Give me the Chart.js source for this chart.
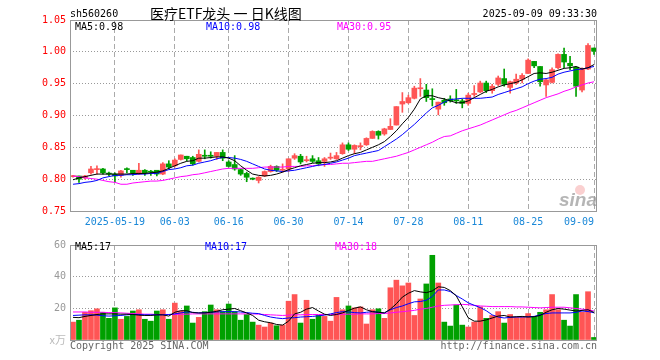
<!DOCTYPE html>
<html>
<head>
<meta charset="utf-8">
<script src="https://cdn.jsdelivr.net/npm/chart.js@4.4.1/dist/chart.umd.min.js"></script>
<style>
  html, body { margin: 0; padding: 0; background: #fff; }
  #wrap { position: relative; width: 660px; height: 360px; }
  #kline { position: absolute; left: 0; top: 0; }
  #vol { position: absolute; left: 0; top: 235px; }
</style>
</head>
<body>
<div id="wrap">
  <canvas id="kline" width="660" height="235"></canvas>
  <canvas id="vol" width="660" height="125"></canvas>
</div>
<script>
// trading days shown, 2025-05-08 .. 2025-09-09
const dates = [
  '2025-05-08','2025-05-09','2025-05-12','2025-05-13','2025-05-14','2025-05-15','2025-05-16',
  '2025-05-19','2025-05-20','2025-05-21','2025-05-22','2025-05-23','2025-05-26','2025-05-27','2025-05-28','2025-05-29','2025-05-30',
  '2025-06-03','2025-06-04','2025-06-05','2025-06-06','2025-06-09','2025-06-10','2025-06-11','2025-06-12','2025-06-13',
  '2025-06-16','2025-06-17','2025-06-18','2025-06-19','2025-06-20','2025-06-23','2025-06-24','2025-06-25','2025-06-26','2025-06-27','2025-06-30',
  '2025-07-01','2025-07-02','2025-07-03','2025-07-04','2025-07-07','2025-07-08','2025-07-09','2025-07-10','2025-07-11',
  '2025-07-14','2025-07-15','2025-07-16','2025-07-17','2025-07-18','2025-07-21','2025-07-22','2025-07-23','2025-07-24','2025-07-25',
  '2025-07-28','2025-07-29','2025-07-30','2025-07-31','2025-08-01','2025-08-04','2025-08-05','2025-08-06','2025-08-07','2025-08-08',
  '2025-08-11','2025-08-12','2025-08-13','2025-08-14','2025-08-15','2025-08-18','2025-08-19','2025-08-20','2025-08-21','2025-08-22',
  '2025-08-25','2025-08-26','2025-08-27','2025-08-28','2025-08-29','2025-09-01','2025-09-02','2025-09-03','2025-09-04','2025-09-05',
  '2025-09-08','2025-09-09'
];

const open = [.804,.805,.802,.810,.815,.816,.809,.808,.806,.816,
  .814,.808,.814,.812,.814,.808,.824,.821,.831,.836,
  .834,.828,.837,.837,.836,.842,.827,.823,.815,.809,
  .801,.798,.805,.812,.820,.814,.816,.833,.836,.829,
  .832,.829,.828,.833,.832,.840,.854,.847,.851,.854,
  .864,.875,.871,.878,.885,.918,.920,.927,.942,.940,
  .926,.910,.924,.926,.924,.923,.919,.933,.937,.951,
  .939,.949,.958,.944,.951,.957,.966,.985,.977,.948,
  .952,.975,.996,.982,.976,.940,.973,1.006];
const high = [.806,.805,.806,.820,.821,.817,.811,.810,.814,.818,
  .814,.825,.815,.814,.814,.826,.829,.832,.838,.836,
  .836,.846,.846,.843,.842,.846,.829,.837,.816,.811,
  .802,.804,.813,.822,.821,.824,.832,.840,.839,.836,
  .837,.834,.834,.841,.842,.857,.857,.854,.857,.865,
  .876,.876,.880,.895,.914,.936,.932,.946,.958,.949,
  .942,.921,.927,.931,.941,.926,.935,.947,.954,.954,
  .949,.962,.973,.954,.965,.966,.989,.985,.977,.957,
  .975,.997,1.006,.993,.976,.975,1.013,1.006];
const low = [.803,.795,.800,.808,.808,.808,.805,.796,.803,.810,
  .806,.807,.806,.806,.805,.807,.816,.819,.830,.829,
  .822,.827,.832,.833,.831,.829,.819,.814,.806,.796,
  .799,.794,.804,.811,.812,.811,.812,.831,.824,.827,
  .826,.821,.820,.831,.831,.839,.845,.840,.846,.853,
  .864,.863,.869,.878,.885,.905,.919,.926,.930,.922,
  .915,.901,.916,.921,.919,.912,.916,.930,.936,.936,
  .935,.947,.946,.935,.949,.951,.966,.975,.946,.930,
  .951,.973,.975,.972,.930,.937,.972,.996];
const close = [.805,.800,.805,.816,.816,.810,.808,.805,.813,.815,
  .810,.814,.810,.811,.808,.824,.819,.830,.838,.832,
  .824,.839,.836,.836,.842,.833,.820,.816,.808,.803,
  .800,.803,.812,.820,.814,.815,.832,.837,.827,.830,
  .828,.824,.832,.834,.837,.854,.847,.853,.852,.864,
  .875,.869,.879,.883,.914,.922,.928,.943,.943,.928,
  .925,.921,.920,.923,.923,.919,.932,.934,.951,.939,
  .946,.959,.949,.953,.957,.963,.987,.978,.953,.956,
  .972,.996,.984,.978,.946,.973,1.010,1.001];

// moving averages as drawn on the chart
const ma5 = [.799,.802,.804,.806,.808,.808,.808,.808,.808,.808,
  .809,.809,.809,.810,.811,.813,.817,.821,.825,.828,
  .829,.833,.833,.834,.835,.835,.833,.829,.821,.814,
  .808,.806,.805,.806,.808,.811,.815,.818,.821,.823,
  .825,.826,.826,.827,.829,.833,.837,.840,.842,.846,
  .850,.854,.859,.867,.876,.887,.897,.910,.926,.931,
  .931,.928,.926,.923,.920,.920,.923,.928,.933,.938,
  .941,.945,.948,.950,.952,.956,.961,.966,.967,.966,
  .968,.971,.974,.975,.977,.973,.975,.980];
const ma10 = [.792,.793,.795,.796,.798,.802,.804,.806,.806,.807,
  .807,.808,.808,.809,.809,.812,.815,.816,.818,.821,
  .822,.825,.827,.829,.832,.834,.834,.833,.831,.828,
  .824,.820,.816,.814,.813,.812,.813,.814,.816,.818,
  .820,.822,.823,.825,.827,.830,.833,.837,.839,.841,
  .843,.845,.851,.857,.863,.870,.878,.886,.895,.904,
  .912,.916,.921,.925,.926,.927,.927,.927,.927,.928,
  .929,.933,.936,.939,.942,.945,.950,.954,.957,.958,
  .960,.965,.968,.970,.972,.973,.975,.977];
const ma30 = [.805,.804,.802,.801,.800,.798,.796,.795,.792,.792,
  .794,.795,.796,.797,.797,.798,.800,.802,.804,.805,
  .807,.808,.810,.812,.814,.816,.817,.817,.817,.817,
  .817,.818,.819,.819,.819,.819,.820,.820,.820,.821,
  .821,.822,.823,.823,.824,.825,.825,.826,.827,.828,
  .828,.830,.832,.834,.836,.839,.842,.846,.850,.854,
  .858,.863,.867,.868,.872,.876,.879,.882,.885,.889,
  .893,.897,.901,.905,.908,.912,.916,.920,.924,.928,
  .931,.934,.938,.941,.945,.948,.951,.953];

// volume, 万手
const volume = [11.3,12.5,17.5,18.5,19.7,17.5,13.7,20.3,13.1,14.9,
  18.3,19.1,13.1,11.9,18.3,19.1,13.1,23.3,18.3,21.5,
  10.7,14.3,17.9,22.1,19.1,17.9,22.7,17.9,12.5,16.1,
  11.3,9.4,8.2,10.7,9.0,9.4,24.5,28.7,10.7,25.1,
  13.1,15.5,14.9,11.9,26.9,19.1,21.5,20.3,20.9,10.1,
  19.1,19.7,13.7,33.0,37.8,34.2,36.0,15.5,25.9,35.4,
  53.5,36.0,11.3,8.8,22.1,9.4,8.2,11.3,20.9,13.7,
  15.5,17.9,10.7,16.1,14.3,14.3,16.7,14.9,17.5,19.1,
  28.7,19.1,12.5,8.8,28.7,17.5,30.5,1.6];
const volMa5 = [14.3,14.1,14.9,15.5,16.1,16.5,16.5,16.5,16.3,16.3,
  16.1,15.7,15.5,15.5,15.9,15.9,15.1,17.5,18.5,18.5,
  17.3,17.1,17.1,17.5,18.1,19.1,19.5,19.9,18.5,17.1,
  15.5,12.5,11.5,10.9,9.8,9.4,11.9,16.5,17.5,19.5,
  20.5,18.3,16.3,15.5,16.1,17.1,18.7,20.1,20.9,19.1,
  17.9,17.5,17.1,19.5,22.9,27.1,29.5,31.2,30.4,29.9,
  31.0,33.6,33.2,31.2,27.9,21.0,14.0,11.9,11.9,12.7,
  13.9,15.1,15.5,14.5,14.7,14.9,14.5,14.7,15.5,17.5,
  19.1,19.9,19.5,18.9,18.3,18.7,19.1,17.4];
const volMa10 = [15.5,15.7,15.9,15.9,15.7,15.3,15.1,15.3,15.5,15.9,
  16.1,16.1,15.9,15.9,15.9,15.9,16.1,16.5,17.1,17.7,
  17.5,17.1,17.3,17.5,17.7,17.9,17.9,17.9,17.7,17.3,
  16.9,16.7,15.5,14.5,13.9,13.5,13.9,14.1,14.5,14.7,
  14.9,15.3,15.7,16.5,17.3,17.9,17.7,17.3,17.1,17.5,
  17.9,17.5,17.1,19.1,20.5,21.5,22.9,24.1,24.3,25.1,
  27.5,31.6,31.6,30.6,28.1,25.9,23.5,21.9,20.5,18.5,
  15.9,14.5,13.9,14.3,14.5,14.5,14.7,14.9,15.9,16.7,
  17.1,17.1,17.1,17.1,17.5,18.3,18.0,17.2];
const volMa30 = [17.7,17.7,17.7,17.5,17.5,17.5,17.3,17.3,17.1,16.9,
  16.7,16.5,16.3,16.3,16.1,16.1,16.1,16.1,16.3,16.3,
  16.5,16.5,16.5,16.5,16.5,16.5,16.5,16.5,16.5,16.5,
  16.5,16.3,16.1,15.9,15.7,15.5,15.7,15.9,15.9,16.1,
  16.1,16.1,16.1,16.1,16.1,16.3,16.3,16.3,16.5,16.5,
  16.5,16.7,16.7,17.1,17.5,17.9,18.3,18.7,19.5,19.9,
  20.7,21.5,21.9,22.1,22.3,22.5,22.3,21.9,21.5,21.3,
  21.1,21.1,21.1,21.1,20.9,20.9,20.7,20.5,20.3,20.5,
  20.7,20.7,20.7,20.3,19.9,19.5,19.1,18.3];

const tickDates = ['2025-05-19','2025-06-03','2025-06-16','2025-06-30','2025-07-14','2025-07-28','2025-08-11','2025-08-25','2025-09-09'];
const tickLabels = ['2025-05-19','06-03','06-16','06-30','07-14','07-28','08-11','08-25','09-09'];

const RED = '#ff5555';
const GREEN = '#00a000';
const MONO = '"DejaVu Sans Mono", monospace';

const tickIndex = tickDates.map(d => dates.indexOf(d));
const candleColor = close.map((c, i) => c >= open[i] ? RED : GREEN);

function xGridColor(ctx) {
  return tickIndex.includes(ctx.index) ? '#aaaaaa' : 'rgba(0,0,0,0)';
}

function drawFrame(chart) {
  const {ctx, chartArea: a} = chart;
  ctx.save();
  ctx.strokeStyle = '#999999';
  ctx.lineWidth = 1;
  ctx.strokeRect(Math.round(a.left) + 0.5, Math.round(a.top) + 0.5,
    Math.round(a.right - a.left) - 1, Math.round(a.bottom - a.top));
  ctx.restore();
}

const last = dates.length - 1;

const klineText = {
  id: 'klineText',
  afterDraw(chart) {
    const ctx = chart.ctx;
    drawFrame(chart);
    ctx.save();
    ctx.textBaseline = 'alphabetic';
    ctx.font = '10px ' + MONO;
    ctx.fillStyle = '#000';
    ctx.textAlign = 'left';
    ctx.fillText('sh560260', 70, 17);
    ctx.textAlign = 'right';
    ctx.fillText('2025-09-09 09:33:30', 597, 17);
    ctx.textAlign = 'left';
    ctx.font = '14px "Noto Sans CJK SC"';
    ctx.fillText('医疗ETF龙头 一 日K线图', 150, 19);

    ctx.font = '10px ' + MONO;
    ctx.fillStyle = '#000000';
    ctx.fillText('MA5:' + ma5[last].toFixed(2), 75, 30);
    ctx.fillStyle = '#0000ff';
    ctx.fillText('MA10:' + ma10[last].toFixed(2), 206, 30);
    ctx.fillStyle = '#ff00ff';
    ctx.fillText('MA30:' + ma30[last].toFixed(2), 337, 30);

    // sina watermark
    ctx.fillStyle = 'rgba(240,120,120,0.35)';
    ctx.beginPath();
    ctx.arc(580, 190, 5, 0, Math.PI * 2);
    ctx.fill();
    ctx.font = 'italic bold 19px "Liberation Sans"';
    ctx.fillStyle = 'rgba(150,150,150,0.7)';
    ctx.textAlign = 'right';
    ctx.fillText('sina', 597, 206);
    ctx.restore();
  }
};

const volText = {
  id: 'volText',
  afterDraw(chart) {
    const ctx = chart.ctx;
    drawFrame(chart);
    ctx.save();
    ctx.font = '10px ' + MONO;
    ctx.textBaseline = 'alphabetic';
    ctx.textAlign = 'left';
    ctx.fillStyle = '#000000';
    ctx.fillText('MA5:' + Math.round(volMa5[last]), 75, 15);
    ctx.fillStyle = '#0000ff';
    ctx.fillText('MA10:' + Math.round(volMa10[last]), 205, 15);
    ctx.fillStyle = '#ff00ff';
    ctx.fillText('MA30:' + Math.round(volMa30[last]), 335, 15);

    ctx.fillStyle = '#666666';
    ctx.fillText('Copyright 2025 SINA.COM', 70, 114);
    ctx.textAlign = 'right';
    ctx.fillText('http://finance.sina.com.cn', 597, 114);

    ctx.fillStyle = '#bbbbbb';
    ctx.font = '11px "Noto Sans CJK SC"';
    ctx.fillText('x万', 66, 109);
    ctx.restore();
  }
};

function maLine(data, color) {
  return {type: 'line', data, borderColor: color, borderWidth: 1, pointRadius: 0, tension: 0, order: 0};
}

new Chart(document.getElementById('kline'), {
  type: 'bar',
  data: {
    labels: dates,
    datasets: [
      maLine(ma5, '#000000'),
      maLine(ma10, '#0000ff'),
      maLine(ma30, '#ff00ff'),
      {
        data: close.map((c, i) => [open[i], c]),
        backgroundColor: candleColor,
        barThickness: 5,
        minBarLength: 1,
        grouped: false,
        order: 1
      },
      {
        data: high.map((h, i) => [low[i], h]),
        backgroundColor: candleColor,
        barThickness: 1,
        grouped: false,
        order: 2
      }
    ]
  },
  options: {
    responsive: false,
    animation: false,
    events: [],
    layout: {padding: {left: 0, right: 63, top: 20, bottom: 0}},
    plugins: {legend: {display: false}, tooltip: {enabled: false}},
    scales: {
      x: {
        offset: true,
        grid: {offset: false, color: xGridColor, drawTicks: false},
        border: {display: false, dash: [5, 3]},
        ticks: {
          autoSkip: false,
          maxRotation: 0,
          padding: 5,
          color: '#1a88d8',
          font: {family: MONO, size: 10},
          // the last label sits left of its tick, padded so it stays inside the frame
          callback: (v, i) => {
            const k = tickIndex.indexOf(i);
            if (k < 0) return '';
            return i === last ? tickLabels[k] + '     ' : tickLabels[k];
          }
        },
        afterFit: s => { s.height = 24; }
      },
      y: {
        min: 0.75,
        max: 1.05,
        grid: {
          drawTicks: false,
          color: c => (c.tick.value < 0.76 || c.tick.value > 1.04) ? 'rgba(0,0,0,0)' : '#999999'
        },
        border: {display: false, dash: [1, 2]},
        ticks: {
          stepSize: 0.05,
          padding: 4,
          color: '#ff0000',
          font: {family: MONO, size: 10},
          callback: v => v.toFixed(2)
        },
        afterFit: s => { s.width = 70; }
      }
    }
  },
  plugins: [klineText]
});

new Chart(document.getElementById('vol'), {
  type: 'bar',
  data: {
    labels: dates,
    datasets: [
      maLine(volMa5, '#000000'),
      maLine(volMa10, '#0000ff'),
      maLine(volMa30, '#ff00ff'),
      {
        data: volume,
        backgroundColor: candleColor,
        barThickness: 5,
        order: 1
      }
    ]
  },
  options: {
    responsive: false,
    animation: false,
    events: [],
    layout: {padding: {left: 0, right: 63, top: 6, bottom: 0}},
    plugins: {legend: {display: false}, tooltip: {enabled: false}},
    scales: {
      x: {
        offset: true,
        grid: {offset: false, color: xGridColor, drawTicks: false},
        border: {display: false, dash: [5, 3]},
        ticks: {display: false},
        afterFit: s => { s.height = 20; }
      },
      y: {
        min: 0,
        max: 60,
        grid: {
          drawTicks: false,
          color: c => (c.tick.value === 20 || c.tick.value === 40) ? '#999999' : 'rgba(0,0,0,0)'
        },
        border: {display: false, dash: [1, 2]},
        ticks: {
          stepSize: 20,
          padding: 4,
          color: '#999999',
          font: {family: MONO, size: 10},
          callback: v => v === 0 ? '' : v
        },
        afterFit: s => { s.width = 70; }
      }
    }
  },
  plugins: [volText]
});
</script>
</body>
</html>
